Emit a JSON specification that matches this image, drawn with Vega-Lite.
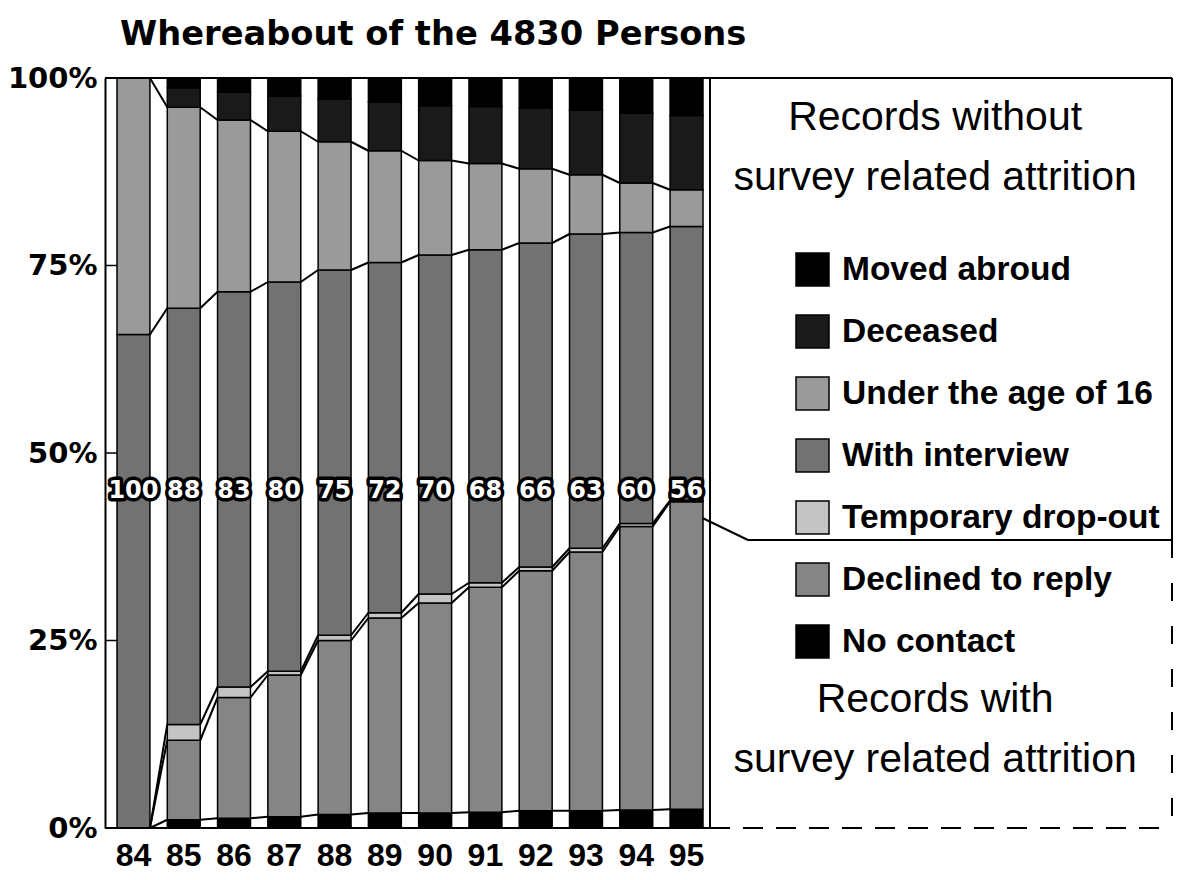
{
  "$schema": "https://vega.github.io/schema/vega-lite/v6.json",
  "width": 1067,
  "height": 750,
  "autosize": {"type": "none"},
  "padding": {"left": 105, "top": 78, "right": 7, "bottom": 52},
  "background": "white",
  "config": {"view": {"stroke": null}},
  "datasets": {
    "shares": [
      {"year": 84, "category": "No contact", "value": 0},
      {"year": 84, "category": "Declined to reply", "value": 0},
      {"year": 84, "category": "Temporary drop-out", "value": 0},
      {"year": 84, "category": "With interview", "value": 65.8},
      {"year": 84, "category": "Under the age of 16", "value": 34.2},
      {"year": 84, "category": "Deceased", "value": 0},
      {"year": 84, "category": "Moved abroud", "value": 0},
      {"year": 85, "category": "No contact", "value": 1.1},
      {"year": 85, "category": "Declined to reply", "value": 10.6},
      {"year": 85, "category": "Temporary drop-out", "value": 2.1},
      {"year": 85, "category": "With interview", "value": 55.5},
      {"year": 85, "category": "Under the age of 16", "value": 26.8},
      {"year": 85, "category": "Deceased", "value": 2.6},
      {"year": 85, "category": "Moved abroud", "value": 1.3},
      {"year": 86, "category": "No contact", "value": 1.3},
      {"year": 86, "category": "Declined to reply", "value": 16.1},
      {"year": 86, "category": "Temporary drop-out", "value": 1.4},
      {"year": 86, "category": "With interview", "value": 52.7},
      {"year": 86, "category": "Under the age of 16", "value": 22.9},
      {"year": 86, "category": "Deceased", "value": 3.7},
      {"year": 86, "category": "Moved abroud", "value": 1.9},
      {"year": 87, "category": "No contact", "value": 1.5},
      {"year": 87, "category": "Declined to reply", "value": 18.9},
      {"year": 87, "category": "Temporary drop-out", "value": 0.5},
      {"year": 87, "category": "With interview", "value": 51.9},
      {"year": 87, "category": "Under the age of 16", "value": 20.1},
      {"year": 87, "category": "Deceased", "value": 4.7},
      {"year": 87, "category": "Moved abroud", "value": 2.4},
      {"year": 88, "category": "No contact", "value": 1.8},
      {"year": 88, "category": "Declined to reply", "value": 23.2},
      {"year": 88, "category": "Temporary drop-out", "value": 0.7},
      {"year": 88, "category": "With interview", "value": 48.7},
      {"year": 88, "category": "Under the age of 16", "value": 17.1},
      {"year": 88, "category": "Deceased", "value": 5.7},
      {"year": 88, "category": "Moved abroud", "value": 2.8},
      {"year": 89, "category": "No contact", "value": 2.0},
      {"year": 89, "category": "Declined to reply", "value": 26.0},
      {"year": 89, "category": "Temporary drop-out", "value": 0.7},
      {"year": 89, "category": "With interview", "value": 46.7},
      {"year": 89, "category": "Under the age of 16", "value": 14.9},
      {"year": 89, "category": "Deceased", "value": 6.5},
      {"year": 89, "category": "Moved abroud", "value": 3.2},
      {"year": 90, "category": "No contact", "value": 2.0},
      {"year": 90, "category": "Declined to reply", "value": 28.0},
      {"year": 90, "category": "Temporary drop-out", "value": 1.2},
      {"year": 90, "category": "With interview", "value": 45.2},
      {"year": 90, "category": "Under the age of 16", "value": 12.6},
      {"year": 90, "category": "Deceased", "value": 7.3},
      {"year": 90, "category": "Moved abroud", "value": 3.7},
      {"year": 91, "category": "No contact", "value": 2.1},
      {"year": 91, "category": "Declined to reply", "value": 30.0},
      {"year": 91, "category": "Temporary drop-out", "value": 0.6},
      {"year": 91, "category": "With interview", "value": 44.4},
      {"year": 91, "category": "Under the age of 16", "value": 11.5},
      {"year": 91, "category": "Deceased", "value": 7.6},
      {"year": 91, "category": "Moved abroud", "value": 3.8},
      {"year": 92, "category": "No contact", "value": 2.3},
      {"year": 92, "category": "Declined to reply", "value": 32.0},
      {"year": 92, "category": "Temporary drop-out", "value": 0.5},
      {"year": 92, "category": "With interview", "value": 43.2},
      {"year": 92, "category": "Under the age of 16", "value": 9.9},
      {"year": 92, "category": "Deceased", "value": 8.1},
      {"year": 92, "category": "Moved abroud", "value": 4.0},
      {"year": 93, "category": "No contact", "value": 2.3},
      {"year": 93, "category": "Declined to reply", "value": 34.5},
      {"year": 93, "category": "Temporary drop-out", "value": 0.5},
      {"year": 93, "category": "With interview", "value": 41.9},
      {"year": 93, "category": "Under the age of 16", "value": 7.9},
      {"year": 93, "category": "Deceased", "value": 8.6},
      {"year": 93, "category": "Moved abroud", "value": 4.3},
      {"year": 94, "category": "No contact", "value": 2.4},
      {"year": 94, "category": "Declined to reply", "value": 37.8},
      {"year": 94, "category": "Temporary drop-out", "value": 0.4},
      {"year": 94, "category": "With interview", "value": 38.8},
      {"year": 94, "category": "Under the age of 16", "value": 6.6},
      {"year": 94, "category": "Deceased", "value": 9.3},
      {"year": 94, "category": "Moved abroud", "value": 4.7},
      {"year": 95, "category": "No contact", "value": 2.5},
      {"year": 95, "category": "Declined to reply", "value": 41.0},
      {"year": 95, "category": "Temporary drop-out", "value": 0.2},
      {"year": 95, "category": "With interview", "value": 36.5},
      {"year": 95, "category": "Under the age of 16", "value": 4.9},
      {"year": 95, "category": "Deceased", "value": 9.9},
      {"year": 95, "category": "Moved abroud", "value": 5.0}
    ],
    "labels": [
      {"year": 84, "label": "100"},
      {"year": 85, "label": "88"},
      {"year": 86, "label": "83"},
      {"year": 87, "label": "80"},
      {"year": 88, "label": "75"},
      {"year": 89, "label": "72"},
      {"year": 90, "label": "70"},
      {"year": 91, "label": "68"},
      {"year": 92, "label": "66"},
      {"year": 93, "label": "63"},
      {"year": 94, "label": "60"},
      {"year": 95, "label": "56"}
    ],
    "blank": [{}]
  },
  "layer": [
    {
      "data": {"name": "shares"},
      "layer": [
        {
          "transform": [{"stack": "value", "groupby": ["year"], "as": ["y0", "y1"]}],
          "mark": {"type": "bar", "stroke": "black", "strokeWidth": 1.5},
          "encoding": {
            "x": {"field": "year", "type": "ordinal",
              "scale": {"domain": [84, 85, 86, 87, 88, 89, 90, 91, 92, 93, 94, 95], "range": [12, 598], "paddingInner": 0.345, "paddingOuter": 0},
              "axis": {"title": null, "labelAngle": 0, "ticks": false, "domain": false, "labelFont": "Liberation Sans", "labelFontWeight": "bold", "labelFontSize": 32, "labelColor": "black", "labelPadding": 12}},
            "y": {"field": "y0", "type": "quantitative", "scale": {"domain": [0, 100], "nice": false},
              "axis": {"title": null, "values": [0, 25, 50, 75, 100], "labelExpr": "datum.value + '%'", "labelFont": "DejaVu Sans", "labelFontWeight": "bold", "labelFontSize": 29, "labelColor": "black", "ticks": false, "domainColor": "black", "domainWidth": 2, "labelPadding": 8, "grid": false}},
            "y2": {"field": "y1"},
            "fill": {"field": "category", "type": "nominal",
              "scale": {"domain": ["Moved abroud", "Deceased", "Under the age of 16", "With interview", "Temporary drop-out", "Declined to reply", "No contact"],
                        "range": ["#000000", "#1a1a1a", "#9a9a9a", "#727272", "#c4c4c4", "#858585", "#000000"]},
              "legend": {"orient": "none", "legendX": 690, "legendY": 174, "title": null, "symbolType": "square", "symbolSize": 1089, "symbolStrokeColor": "black", "symbolStrokeWidth": 1.5, "symbolOpacity": 1, "labelFont": "Liberation Sans", "labelFontWeight": "bold", "labelFontSize": 33.5, "labelColor": "black", "labelOffset": 12, "rowPadding": 23, "padding": 0, "labelLimit": 500}}
          }
        },
        {
          "transform": [
            {"stack": "value", "groupby": ["year"], "as": ["y0", "y1"]},
            {"window": [{"op": "lead", "field": "y1", "as": "ny1"}, {"op": "lead", "field": "year", "as": "nyear"}], "groupby": ["category"], "sort": [{"field": "year", "order": "ascending"}]},
            {"filter": "datum.nyear != null && datum.category != 'Moved abroud' && datum.category != 'Deceased'"}
          ],
          "mark": {"type": "rule", "stroke": "black", "strokeWidth": 2},
          "encoding": {
            "x": {"field": "year", "type": "ordinal", "bandPosition": 1},
            "x2": {"field": "nyear", "bandPosition": 0},
            "y": {"field": "y1", "type": "quantitative", "title": null},
            "y2": {"field": "ny1"}
          }
        },
        {
          "data": {"name": "labels"},
          "mark": {"type": "text", "font": "DejaVu Sans", "fontWeight": "bold", "fontSize": 24, "fill": "black", "stroke": "black", "strokeWidth": 7, "strokeJoin": "round", "baseline": "middle", "align": "center"},
          "encoding": {
            "x": {"field": "year", "type": "ordinal"},
            "y": {"datum": 44.9, "type": "quantitative"},
            "text": {"field": "label"}
          }
        },
        {
          "data": {"name": "labels"},
          "mark": {"type": "text", "font": "DejaVu Sans", "fontWeight": "bold", "fontSize": 24, "fill": "white", "baseline": "middle", "align": "center"},
          "encoding": {
            "x": {"field": "year", "type": "ordinal"},
            "y": {"datum": 44.9, "type": "quantitative"},
            "text": {"field": "label"}
          }
        }
      ]
    },
    {
      "data": {"name": "blank"},
      "layer": [
        {
          "mark": {"type": "text", "font": "DejaVu Sans", "fontWeight": "bold", "fontSize": 33.7, "align": "left", "baseline": "alphabetic", "fill": "black"},
          "encoding": {
            "x": {"datum": 1.41, "type": "quantitative", "scale": {"domain": [0, 100], "nice": false, "zero": false}, "axis": null},
            "y": {"datum": 104.4, "type": "quantitative"},
            "text": {"value": "Whereabout of the 4830 Persons"}
          }
        },
        {
          "mark": {"type": "text", "font": "Liberation Sans", "fontSize": 41, "align": "center", "baseline": "middle", "lineHeight": 60, "fill": "black"},
          "encoding": {
            "x": {"datum": 77.8, "type": "quantitative"},
            "y": {"datum": 94.67, "type": "quantitative"},
            "text": {"value": ["Records without", "survey related attrition"]}
          }
        },
        {
          "mark": {"type": "text", "font": "Liberation Sans", "fontSize": 41, "align": "center", "baseline": "middle", "lineHeight": 60, "fill": "black"},
          "encoding": {
            "x": {"datum": 77.8, "type": "quantitative"},
            "y": {"datum": 17.07, "type": "quantitative"},
            "text": {"value": ["Records with", "survey related attrition"]}
          }
        },
        {
          "mark": {"type": "rule", "stroke": "black", "strokeWidth": 2},
          "encoding": {"y": {"datum": 100, "type": "quantitative"}}
        },
        {
          "mark": {"type": "rule", "stroke": "black", "strokeWidth": 1.5},
          "encoding": {"x": {"datum": 0, "type": "quantitative"}, "x2": {"datum": 1.12}, "y": {"datum": 25, "type": "quantitative"}}
        },
        {
          "mark": {"type": "rule", "stroke": "black", "strokeWidth": 1.5},
          "encoding": {"x": {"datum": 0, "type": "quantitative"}, "x2": {"datum": 1.12}, "y": {"datum": 50, "type": "quantitative"}}
        },
        {
          "mark": {"type": "rule", "stroke": "black", "strokeWidth": 1.5},
          "encoding": {"x": {"datum": 0, "type": "quantitative"}, "x2": {"datum": 1.12}, "y": {"datum": 75, "type": "quantitative"}}
        },
        {
          "mark": {"type": "rule", "stroke": "black", "strokeWidth": 2},
          "encoding": {"x": {"datum": 56.7, "type": "quantitative"}}
        },
        {
          "mark": {"type": "rule", "stroke": "black", "strokeWidth": 2},
          "encoding": {"x": {"datum": 0, "type": "quantitative"}, "x2": {"datum": 56.7}, "y": {"datum": 0, "type": "quantitative"}}
        },
        {
          "mark": {"type": "rule", "stroke": "black", "strokeWidth": 2, "strokeDash": [20, 13]},
          "encoding": {"x": {"datum": 56.7, "type": "quantitative"}, "x2": {"datum": 100}, "y": {"datum": 0, "type": "quantitative"}}
        },
        {
          "mark": {"type": "rule", "stroke": "black", "strokeWidth": 2},
          "encoding": {"x": {"datum": 100, "type": "quantitative"}, "y": {"datum": 100, "type": "quantitative"}, "y2": {"datum": 38.4}}
        },
        {
          "mark": {"type": "rule", "stroke": "black", "strokeWidth": 2, "strokeDash": [18, 25]},
          "encoding": {"x": {"datum": 100, "type": "quantitative"}, "y": {"datum": 38.4, "type": "quantitative"}, "y2": {"datum": 0}}
        },
        {
          "mark": {"type": "rule", "stroke": "black", "strokeWidth": 2},
          "encoding": {"x": {"datum": 56.04, "type": "quantitative"}, "x2": {"datum": 60.26}, "y": {"datum": 41.3, "type": "quantitative"}, "y2": {"datum": 38.4}}
        },
        {
          "mark": {"type": "rule", "stroke": "black", "strokeWidth": 2},
          "encoding": {"x": {"datum": 60.26, "type": "quantitative"}, "x2": {"datum": 100}, "y": {"datum": 38.4, "type": "quantitative"}}
        }
      ]
    }
  ],
  "resolve": {"scale": {"x": "independent"}}
}
